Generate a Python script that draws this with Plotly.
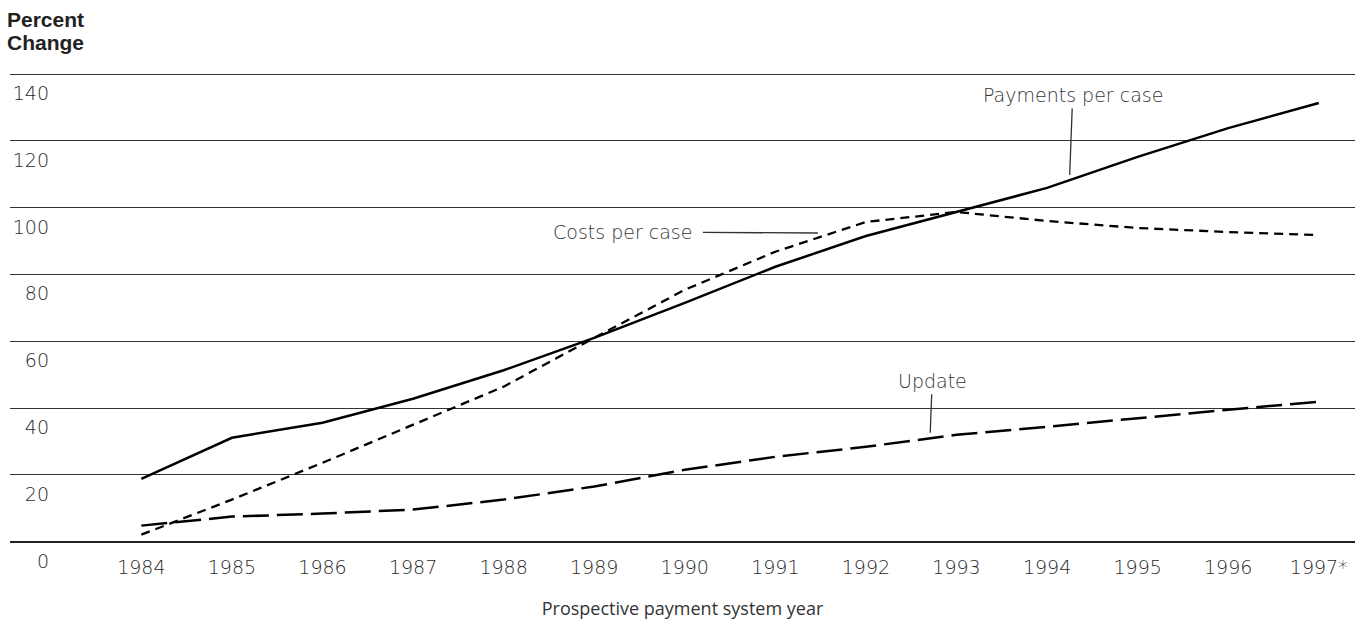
import plotly.graph_objects as go

years = [1984, 1985, 1986, 1987, 1988, 1989, 1990, 1991, 1992, 1993, 1994, 1995, 1996, 1997]
year_labels = ["1984", "1985", "1986", "1987", "1988", "1989", "1990", "1991", "1992",
               "1993", "1994", "1995", "1996", "1997*"]
payments = [18.8, 31.1, 35.6, 42.8, 51.3, 61.0, 71.5, 82.3, 91.5, 98.6, 105.9, 115.2, 123.8, 131.3]
costs = [2.1, 12.6, 23.6, 35.0, 46.4, 61.0, 75.4, 86.8, 95.7, 98.7, 96.0, 93.9, 92.7, 91.8]
update = [4.8, 7.5, 8.4, 9.6, 12.6, 16.5, 21.5, 25.4, 28.4, 32.0, 34.4, 37.0, 39.5, 41.9]
y_ticks = [0, 20, 40, 60, 80, 100, 120, 140]

FONT = "DejaVu Sans"
INK = "#2a2a2a"

fig = go.Figure()
fig.add_trace(go.Scatter(x=years, y=payments, mode="lines", name="Payments per case",
                         line=dict(color="black", width=2.5)))
fig.add_trace(go.Scatter(x=years, y=costs, mode="lines", name="Costs per case",
                         line=dict(color="black", width=2.3, dash="9px,6px")))
fig.add_trace(go.Scatter(x=years, y=update, mode="lines", name="Update",
                         line=dict(color="black", width=2.5, dash="26px,8px")))

ann_font = dict(family=FONT, size=19, color="#333", weight=200)
fig.add_annotation(x=1994.25, y=109.8, ax=3, ay=-80, text="Payments per case",
                   showarrow=True, arrowhead=0, arrowwidth=1.3, arrowcolor="#333",
                   font=ann_font, borderpad=2)
fig.add_annotation(x=1991.47, y=92.4, ax=-195, ay=-1, text="Costs per case",
                   showarrow=True, arrowhead=0, arrowwidth=1.3, arrowcolor="#333",
                   font=ann_font, borderpad=10)
fig.add_annotation(x=1992.71, y=32.6, ax=2, ay=-52, text="Update",
                   showarrow=True, arrowhead=0, arrowwidth=1.3, arrowcolor="#333",
                   font=ann_font, borderpad=2)
title_font = dict(family="Liberation Sans, Arial", size=21, color="#222")
fig.add_annotation(xref="paper", yref="paper", x=-0.004, y=1.133, xanchor="left", yanchor="top",
                   text="<b>Percent</b>", showarrow=False, align="left", font=title_font)
fig.add_annotation(xref="paper", yref="paper", x=-0.004, y=1.084, xanchor="left", yanchor="top",
                   text="<b>Change</b>", showarrow=False, align="left", font=title_font)

fig.update_layout(
    width=1370, height=622,
    margin=dict(l=10, r=15, t=69, b=77, autoexpand=False),
    paper_bgcolor="white", plot_bgcolor="white",
    showlegend=False,
    xaxis=dict(range=[1982.55, 1997.4], tickvals=years, ticktext=year_labels,
               automargin=False,
               showgrid=False, zeroline=False, showline=False,
               ticks="outside", ticklen=5, tickcolor="rgba(0,0,0,0)",
               tickfont=dict(family=FONT, size=19, color=INK, weight=200),
               title=dict(text="Prospective payment system year", standoff=25,
                          font=dict(family="Open Sans", size=18, color="#333"))),
    yaxis=dict(range=[-1, 141.5], tickvals=y_ticks, anchor="free", position=0.029,
               automargin=False,
               showgrid=True, gridcolor="#333", gridwidth=1.3,
               zeroline=True, zerolinecolor="#222", zerolinewidth=2,
               showline=False, ticks="",
               ticklabelposition="outside bottom", ticklabelshift=6,
               tickfont=dict(family=FONT, size=19, color=INK, weight=200)),
)

fig.write_html("out.html", config={"displayModeBar": False},
               post_script="document.body.style.margin='0';")
